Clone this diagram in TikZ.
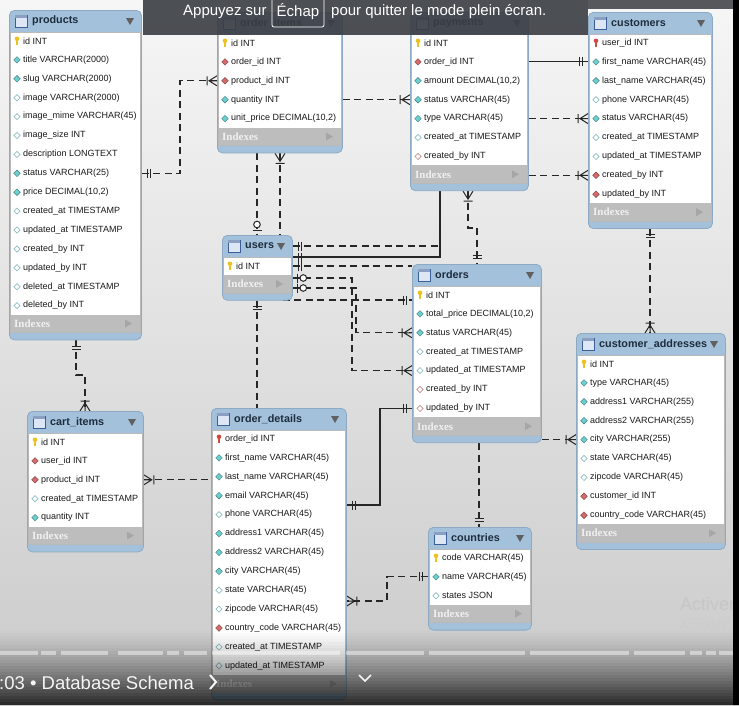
\documentclass[tikz,border=0pt]{standalone}
\usepackage{fontspec}
\setmainfont{Liberation Sans}
\newfontfamily\idxfont{Liberation Serif}
\usetikzlibrary{calc}
\pgfdeclarelayer{back}
\pgfdeclarelayer{wires}
\pgfdeclarelayer{front}
\pgfsetlayers{back,wires,main,front}

\definecolor{bgtop}{HTML}{F6F6F6}
\definecolor{bgbot}{HTML}{CACACA}
\definecolor{hdrblue}{HTML}{A3C1DB}
\definecolor{frameblue}{HTML}{8DAAC4}
\definecolor{idxgray}{HTML}{BDBDBD}
\definecolor{rowtext}{HTML}{1A1A1A}
\definecolor{hdrtext}{HTML}{1E2D3D}
\definecolor{keyyellow}{HTML}{EEC21E}
\definecolor{keyred}{HTML}{D24A3C}
\definecolor{nncyan}{HTML}{6CCFCF}
\definecolor{fkred}{HTML}{D46A6A}
\definecolor{nulcyan}{HTML}{8FBFC4}
\definecolor{nulred}{HTML}{C98C8C}
\definecolor{linecol}{HTML}{262626}
\definecolor{iconfill}{HTML}{DCE6F4}
\definecolor{iconedge}{HTML}{3D5F99}
\definecolor{bannergray}{HTML}{3A3D42}

\tikzset{
  tbox/.style={draw=frameblue, fill=hdrblue, rounded corners=5pt, inner sep=0pt,
    anchor=north west, line width=0.8pt},
  bodyline/.style={draw=gray!55, line width=0.5pt},
  rowlbl/.style={anchor=west, inner sep=0pt, font=\fontsize{9}{10}\selectfont, text=rowtext},
  hdrlbl/.style={anchor=west, inner sep=0pt, font=\fontsize{10.8}{12}\selectfont\bfseries, text=hdrtext},
  idxlbl/.style={anchor=west, inner sep=0pt, font=\idxfont\fontsize{11}{12}\selectfont\bfseries, text=white!88!gray},
  hdrarrow/.style={fill=gray!75!black},
  idxarrow/.style={fill=gray!70},
  conn/.style={draw=linecol, line width=1.05pt},
  connd/.style={conn, dash pattern=on 7pt off 4.5pt},
  mkline/.style={draw=linecol, line width=1pt, solid},
  % cardinality marks: box edge at the origin, line leaving towards +x
  mk-one/.pic={\draw[mkline] (6,-4.5)--(6,4.5) (9,-4.5)--(9,4.5);},
  mk-many/.pic={\draw[mkline] (0,-5)--(8,0)--(0,5) (0,0)--(8,0) (10,-4.5)--(10,4.5);},
  mk-zone/.pic={\draw[mkline] (5,-4.5)--(5,4.5);
                \draw[mkline, fill=white] (10.5,0) circle[radius=3.3pt];},
  % column icons
  ic-key/.pic={\fill[keyyellow] (0,-2.2) circle[radius=2.3pt];
               \fill[keyyellow] (-0.8,-1) rectangle (0.8,4.2);},
  ic-pkfk/.pic={\fill[keyred] (0,-2.2) circle[radius=2.3pt];
                \fill[keyred] (-0.8,-1) rectangle (0.8,4.2);},
  ic-nn/.pic={\filldraw[fill=nncyan, draw=nncyan!60!black, line width=0.4pt]
              (0,-3.3)--(3.3,0)--(0,3.3)--(-3.3,0)--cycle;},
  ic-fk/.pic={\filldraw[fill=fkred, draw=fkred!60!black, line width=0.4pt]
              (0,-3.3)--(3.3,0)--(0,3.3)--(-3.3,0)--cycle;},
  ic-nul/.pic={\filldraw[fill=white, draw=nulcyan, line width=0.7pt]
              (0,-3.1)--(3.1,0)--(0,3.1)--(-3.1,0)--cycle;},
  ic-nulfk/.pic={\filldraw[fill=white, draw=nulred, line width=0.7pt]
              (0,-3.1)--(3.1,0)--(0,3.1)--(-3.1,0)--cycle;},
}

% \erTable{name}{left}{right}{top}{title}{icon/column, ...}
\newcommand\erTable[6]{%
  \pgfmathsetmacro\tL{#2}%
  \pgfmathsetmacro\tR{#3}%
  \pgfmathsetmacro\tT{#4}%
  \foreach \tmp [count=\erc] in {#6} {\xdef\erN{\erc}}%
  \pgfmathsetmacro\tW{\tR-\tL}%
  \pgfmathsetmacro\tH{46+18.9*\erN}%
  \pgfmathsetmacro\tE{\tT+21+18.9*\erN}%
  \node[tbox, minimum width=\tW pt, minimum height=\tH pt] (#1) at (\tL,\tT) {};%
  \fill[white] (\tL+1,\tT+22) rectangle (\tR-1,\tE);%
  \fill[idxgray] (\tL+1,\tE) rectangle (\tR-1,\tE+18);%
  \draw[bodyline] (\tL+1,\tT+22) rectangle (\tR-1,\tE+18);%
  \filldraw[fill=iconfill, draw=iconedge, line width=0.6pt] (\tL+6,\tT+5) rectangle (\tL+18,\tT+17);%
  \fill[iconedge!60] (\tL+6,\tT+5) rectangle (\tL+18,\tT+7.5);%
  \node[hdrlbl] (#1-title) at (\tL+23,\tT+11) {#5};%
  \fill[hdrarrow] (\tR-15,\tT+8) -- (\tR-7,\tT+8) -- (\tR-11,\tT+15) -- cycle;%
  \node[idxlbl] (#1-idx) at (\tL+5,\tE+9) {Indexes};%
  \fill[idxarrow] (\tR-16,\tE+5) -- (\tR-9,\tE+9) -- (\tR-16,\tE+13) -- cycle;%
  \foreach \ic/\tx [count=\ri] in {#6} {%
    \pgfmathsetmacro\ry{\tT+31+18.9*(\ri-1)}%
    \path (\tL+8,\ry) pic {ic-\ic};%
    \node[rowlbl] (#1-\ri) at (\tL+14,\ry) {\tx};%
  }%
}

\begin{document}
\begin{tikzpicture}[x=1pt,y=-1pt]
\useasboundingbox (0,0) rectangle (739,705);

\begin{pgfonlayer}{back}
  \shade[top color=bgtop, bottom color=bgbot] (0,0) rectangle (739,705);
\end{pgfonlayer}

% ---------------- tables ----------------
\erTable{products}{9}{141}{10}{products}{key/id INT, nn/title VARCHAR(2000), nn/slug VARCHAR(2000),
  nul/image VARCHAR(2000), nul/image\_mime VARCHAR(45), nul/image\_size INT, nul/description LONGTEXT,
  nn/status VARCHAR(25), nn/{price DECIMAL(10,2)}, nul/created\_at TIMESTAMP, nul/updated\_at TIMESTAMP,
  nul/created\_by INT, nul/updated\_by INT, nul/deleted\_at TIMESTAMP, nul/deleted\_by INT}

\erTable{order_items}{217}{342}{12}{order\_items}{key/id INT, fk/order\_id INT, fk/product\_id INT,
  nn/quantity INT, nn/{unit\_price DECIMAL(10,2)}}

\erTable{payments}{410}{528}{12}{payments}{key/id INT, fk/order\_id INT, nn/{amount DECIMAL(10,2)},
  nn/status VARCHAR(45), nn/type VARCHAR(45), nul/created\_at TIMESTAMP, nulfk/created\_by INT}

\erTable{customers}{588}{712}{12}{customers}{pkfk/user\_id INT, nn/first\_name VARCHAR(45),
  nn/last\_name VARCHAR(45), nul/phone VARCHAR(45), nn/status VARCHAR(45), nul/created\_at TIMESTAMP,
  nul/updated\_at TIMESTAMP, fk/created\_by INT, fk/updated\_by INT}

\erTable{users}{222}{292}{235}{users}{key/id INT}

\erTable{orders}{412}{541}{264}{orders}{key/id INT, nn/{total\_price DECIMAL(10,2)}, nn/status VARCHAR(45),
  nul/created\_at TIMESTAMP, nul/updated\_at TIMESTAMP, nulfk/created\_by INT, nulfk/updated\_by INT}

\erTable{order_details}{211}{346}{408}{order\_details}{pkfk/order\_id INT, nn/first\_name VARCHAR(45),
  nn/last\_name VARCHAR(45), nn/email VARCHAR(45), nul/phone VARCHAR(45), nn/address1 VARCHAR(45),
  nn/address2 VARCHAR(45), nn/city VARCHAR(45), nul/state VARCHAR(45), nul/zipcode VARCHAR(45),
  fk/country\_code VARCHAR(45), nul/created\_at TIMESTAMP, nul/updated\_at TIMESTAMP}

\erTable{cart_items}{27}{143}{411}{cart\_items}{key/id INT, fk/user\_id INT, fk/product\_id INT,
  nul/created\_at TIMESTAMP, nn/quantity INT}

\erTable{customer_addresses}{576}{725}{333}{customer\_addresses}{key/id INT, nn/type VARCHAR(45),
  nn/address1 VARCHAR(255), nn/address2 VARCHAR(255), nn/city VARCHAR(255), nul/state VARCHAR(45),
  nul/zipcode VARCHAR(45), fk/customer\_id INT, fk/country\_code VARCHAR(45)}

\erTable{countries}{428}{531}{527}{countries}{key/code VARCHAR(45), nn/name VARCHAR(45), nul/states JSON}

% ---------------- routing channels ----------------
\coordinate (vx76) at (76,0);
\coordinate (vx85) at (85,0);
\coordinate (vx180) at (180,0);
\coordinate (vx257) at (257,0);
\coordinate (vx280) at (280,0);
\coordinate (vx352) at (352,0);
\coordinate (vx356) at (356,0);
\coordinate (vx380) at (380,0);
\coordinate (vx387) at (387,0);
\coordinate (vx440) at (440,0);
\coordinate (vx468) at (468,0);
\coordinate (vx477) at (477,0);
\coordinate (vx479) at (479,0);
\coordinate (vx650) at (650,0);
\coordinate (hy228) at (0,228);
\coordinate (hy246) at (0,246);
\coordinate (hy257) at (0,257);
\coordinate (hy278) at (0,278);
\coordinate (hy288) at (0,288);
\coordinate (hy300) at (0,300);
\coordinate (hy375) at (0,375);
\coordinate (hy505) at (0,505);
\coordinate (hy601) at (0,601);

% ---------------- relationships ----------------
\begin{pgfonlayer}{wires}
  % products -- order_items
  \draw[connd] (products.east |- products-8) -| (vx180 |- order_items-3) -- (order_items.west |- order_items-3);
  \path (products.east |- products-8) pic {mk-one};
  \path (order_items.west |- order_items-3) pic[rotate=180] {mk-many};
  % order_items -- users
  \draw[connd] (order_items.south -| vx257) -- (users.north -| vx257);
  \path (users.north -| vx257) pic[rotate=90] {mk-zone};
  % order_items -- orders (passes behind users)
  \draw[connd] (order_items.south -| vx280) |- (orders.west |- hy300);
  \path (order_items.south -| vx280) pic[rotate=-90] {mk-many};
  \path (orders.west |- hy300) pic[rotate=180] {mk-one};
  % users -- payments
  \draw[connd] (users.east |- hy246) -| (payments.south -| vx440);
  \path (users.east |- hy246) pic {mk-one};
  \draw[conn] (payments.south -| vx440) |- (users.east |- hy257);
  \path (users.east |- hy257) pic {mk-one};
  % payments -- orders
  \draw[connd] (payments.south -| vx468) -- (vx468 |- hy228) -| (orders.north -| vx477);
  \path (payments.south -| vx468) pic[rotate=-90] {mk-many};
  \path (orders.north -| vx477) pic[rotate=90] {mk-one};
  % payments -- customers
  \draw[conn] (payments.east |- customers-2) -- (customers.west |- customers-2);
  \path (customers.west |- customers-2) pic[rotate=180] {mk-one};
  \draw[connd] (payments.east |- customers-5) -- (customers.west |- customers-5);
  \path (customers.west |- customers-5) pic[rotate=180] {mk-many};
  \draw[connd] (payments.east |- customers-8) -- (customers.west |- customers-8);
  \path (customers.west |- customers-8) pic[rotate=180] {mk-many};
  % order_items -- payments
  \draw[connd] (order_items.east |- payments-4) -- (payments.west |- payments-4);
  \path (payments.west |- payments-4) pic[rotate=180] {mk-many};
  % customers -- customer_addresses
  \draw[connd] (customers.south -| vx650) -- (customer_addresses.north -| vx650);
  \path (customers.south -| vx650) pic[rotate=-90] {mk-one};
  \path (customer_addresses.north -| vx650) pic[rotate=90] {mk-many};
  % orders -- customer_addresses
  \draw[connd] (orders.east |- customer_addresses-5) -- (customer_addresses.west |- customer_addresses-5);
  \path (customer_addresses.west |- customer_addresses-5) pic[rotate=180] {mk-many};
  % orders -- countries
  \draw[connd] (orders.south -| vx479) -- (countries.north -| vx479);
  \path (countries.north -| vx479) pic[rotate=90] {mk-one};
  % orders -- order_details
  \draw[conn] (orders.west |- orders-7) -| (vx380 |- hy505) -- (order_details.east |- hy505);
  \path (orders.west |- orders-7) pic[rotate=180] {mk-one};
  \path (order_details.east |- hy505) pic {mk-one};
  % countries -- order_details
  \draw[connd] (countries.west |- countries-2) -| (vx387 |- hy601) -- (order_details.east |- hy601);
  \path (countries.west |- countries-2) pic[rotate=180] {mk-one};
  \path (order_details.east |- hy601) pic {mk-many};
  % users -- orders
  \draw[connd] (users.east |- users-1) -- (orders.west |- users-1);
  \path (users.east |- users-1) pic {mk-one};
  \draw[connd] (users.east |- hy278) -| (vx352 |- orders-5) -- (orders.west |- orders-5);
  \path (users.east |- hy278) pic {mk-zone};
  \path (orders.west |- orders-5) pic[rotate=180] {mk-many};
  \draw[connd] (users.east |- hy288) -| (vx356 |- orders-3) -- (orders.west |- orders-3);
  \path (users.east |- hy288) pic {mk-zone};
  \path (orders.west |- orders-3) pic[rotate=180] {mk-many};
  % users -- order_details
  \draw[connd] (users.south -| vx257) -- (order_details.north -| vx257);
  \path (users.south -| vx257) pic[rotate=-90] {mk-one};
  % products -- cart_items
  \draw[connd] (products.south -| vx76) -- (vx76 |- hy375) -| (cart_items.north -| vx85);
  \path (products.south -| vx76) pic[rotate=-90] {mk-one};
  \path (cart_items.north -| vx85) pic[rotate=90] {mk-many};
  % cart_items -- order_details
  \draw[connd] (cart_items.east |- cart_items-3) -- (order_details.west |- cart_items-3);
  \path (cart_items.east |- cart_items-3) pic {mk-many};
\end{pgfonlayer}

% ---------------- screen overlays ----------------
\begin{pgfonlayer}{front}
  \node[anchor=west, inner sep=0pt, text=gray!45, font=\fontsize{18}{20}\selectfont] (wm1) at (680,604) {Activer};
  \node[anchor=west, inner sep=0pt, text=gray!40, font=\fontsize{12.5}{14}\selectfont] (wm2) at (680,625) {Accédez};
  % player gradient at the bottom
  \foreach \k in {0,...,24} {
    \pgfmathsetmacro\op{0.78*((\k+1)/25)^1.4}
    \fill[black, opacity=\op] (0,630+3*\k) rectangle (733,633+3*\k);
  }
  % chapter progress bar
  \foreach \a/\b in {0/38, 41/56, 61/108, 118/163, 167/179, 184/207, 212/340, 346/424,
                     429/525, 530/629, 634/685, 690/702, 706/716, 719/733} {
    \fill[white, opacity=0.45] (\a,651) rectangle (\b,655);
  }
  \node[anchor=base west, inner sep=0pt, text=white!92!gray, font=\fontsize{18.5}{20}\selectfont]
    (chapter) at (-1,689) {:03 • Database Schema};
  \draw[white!92!gray, line width=2pt] (210,675) -- (216,682) -- (210,689);
  \draw[white!92!gray, line width=1.6pt] (359,675) -- (365,681) -- (371,675);
  % full-screen hint
  \fill[bannergray, opacity=0.9] (143,0) rectangle (588,35);
  \fill[bannergray, opacity=0.85] (588,0) rectangle (733,9);
  \draw[white, rounded corners=2pt, line width=0.8pt] (272,-2) rectangle (324,27);
  \node[anchor=west, inner sep=0pt, text=white, font=\fontsize{15}{17}\selectfont] (hint1) at (183,12) {Appuyez sur};
  \node[inner sep=0pt, text=white, font=\fontsize{15}{17}\selectfont] (hint2) at (298,12) {Échap};
  \node[anchor=west, inner sep=0pt, text=white, font=\fontsize{15}{17}\selectfont] (hint3) at (331,12) {pour quitter le mode plein écran.};
  % screen edge
  \fill[black] (733,0) rectangle (739,705);
\end{pgfonlayer}
\end{tikzpicture}
\end{document}
